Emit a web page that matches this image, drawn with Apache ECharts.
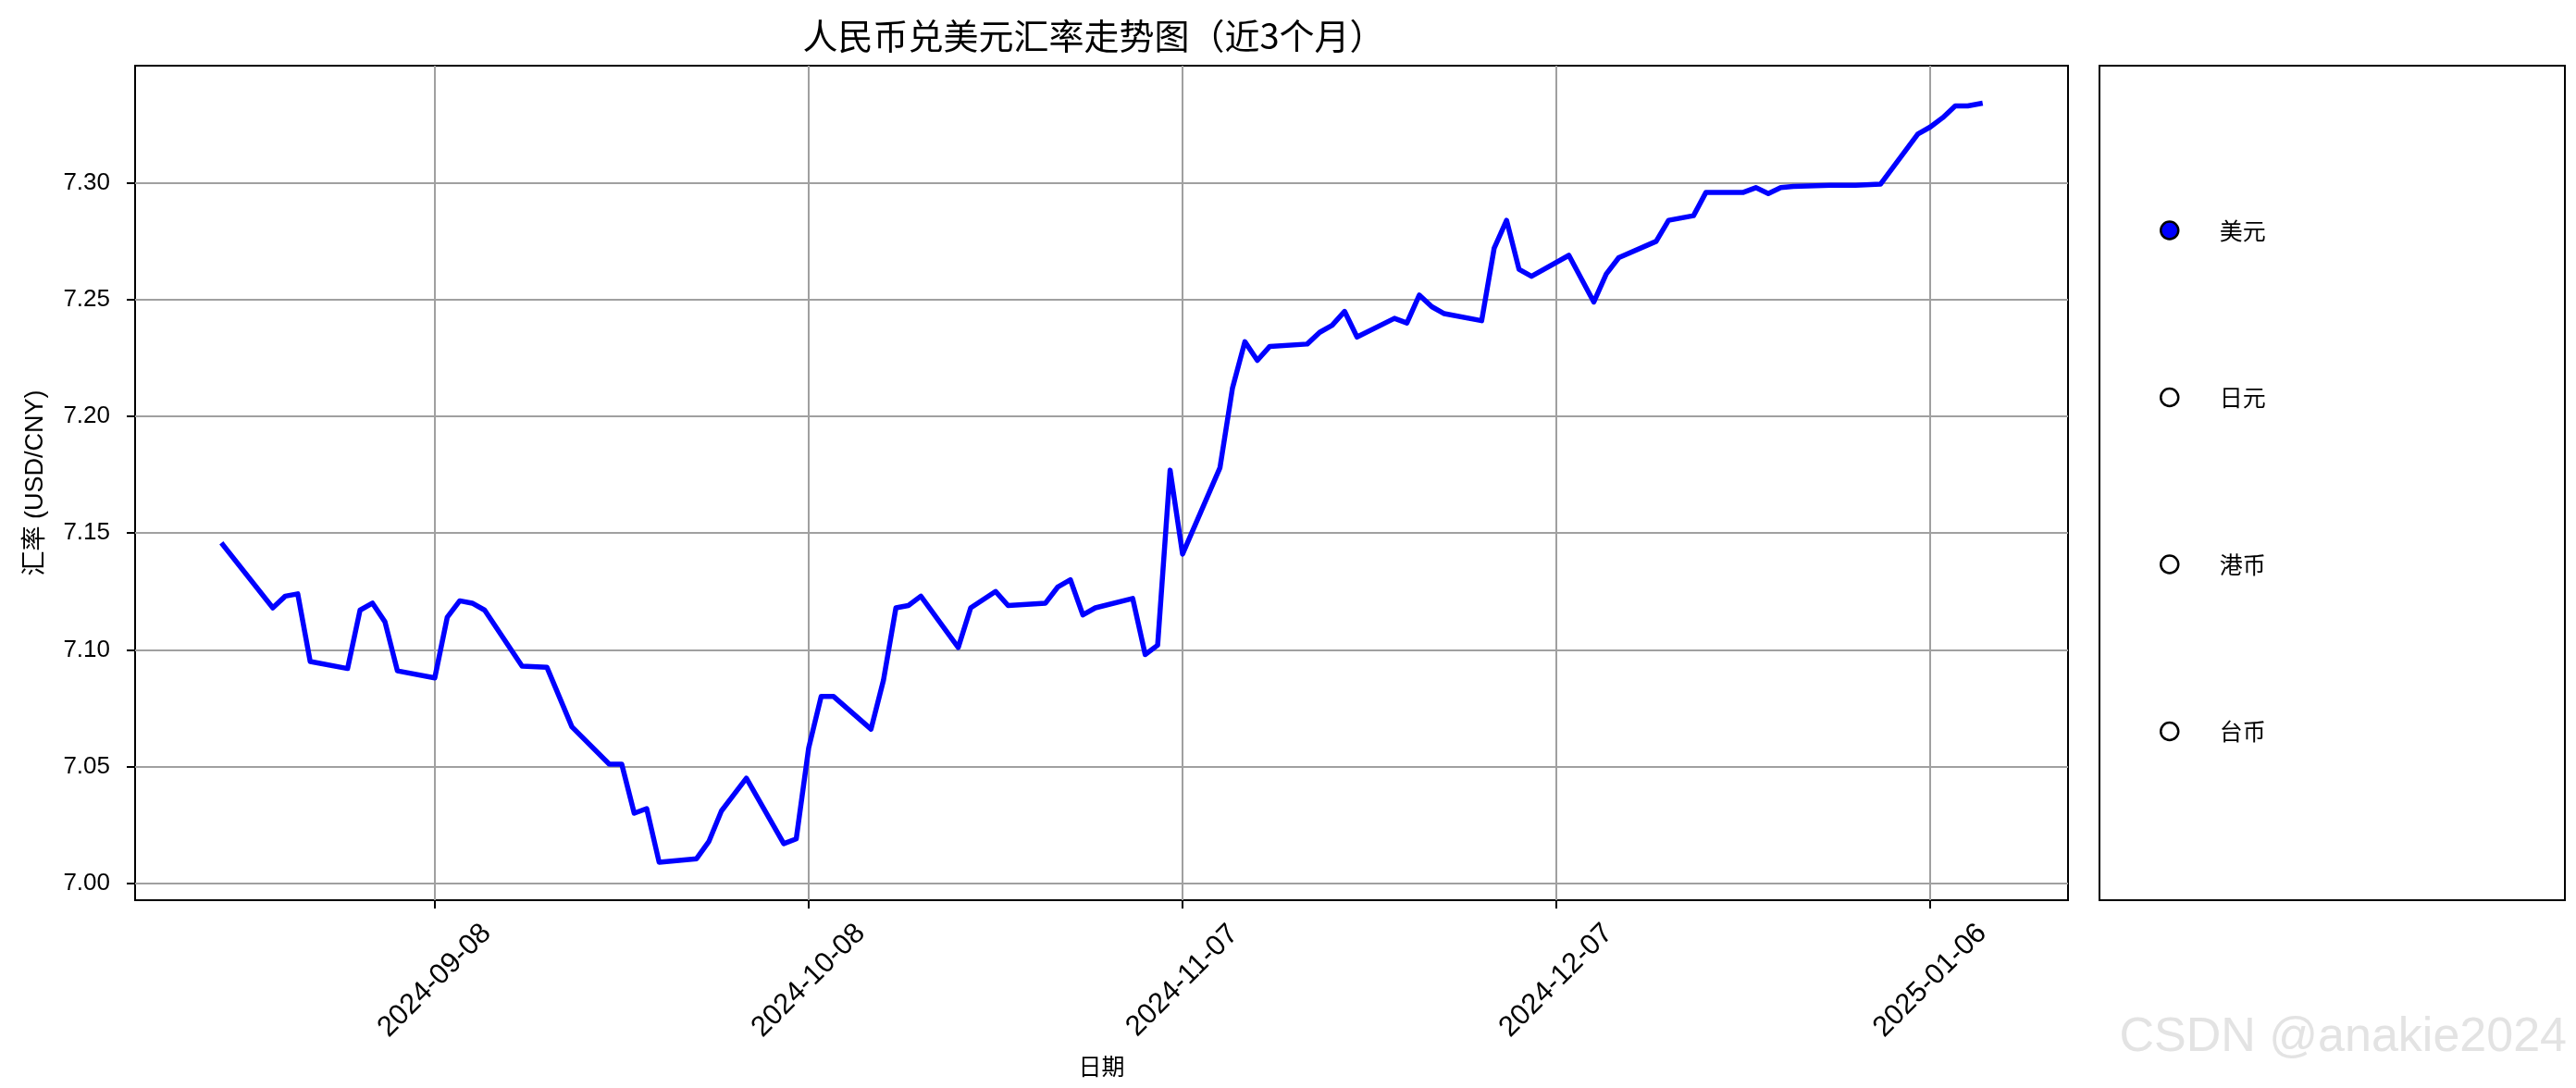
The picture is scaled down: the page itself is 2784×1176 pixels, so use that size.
<!DOCTYPE html>
<html>
<head>
<meta charset="utf-8">
<script src="https://cdn.jsdelivr.net/npm/echarts@6/dist/echarts.min.js"></script>
<style>
html,body{margin:0;padding:0;background:#ffffff;}
#chart{width:2784px;height:1176px;}
</style>
</head>
<body>
<div id="chart"></div>
<script>
// ---------------- data ----------------
const chartTitle = '人民币兑美元汇率走势图（近3个月）';
const xAxisName = '日期';
const yAxisName = '汇率 (USD/CNY)';
const currencies = ['美元', '日元', '港币', '台币'];
const activeCurrency = '美元';

const dates = [
  '2024-08-22','2024-08-26','2024-08-27','2024-08-28','2024-08-29',
  '2024-09-01','2024-09-02','2024-09-03','2024-09-04','2024-09-05',
  '2024-09-08','2024-09-09','2024-09-10','2024-09-11','2024-09-12',
  '2024-09-15','2024-09-17','2024-09-19','2024-09-22','2024-09-23',
  '2024-09-24','2024-09-25','2024-09-26','2024-09-29','2024-09-30',
  '2024-10-01','2024-10-03','2024-10-06','2024-10-07','2024-10-08',
  '2024-10-09','2024-10-10','2024-10-13','2024-10-14','2024-10-15',
  '2024-10-16','2024-10-17','2024-10-20','2024-10-21','2024-10-23',
  '2024-10-24','2024-10-27','2024-10-28','2024-10-29','2024-10-30',
  '2024-10-31','2024-11-03','2024-11-04','2024-11-05','2024-11-06',
  '2024-11-07','2024-11-10','2024-11-11','2024-11-12','2024-11-13',
  '2024-11-14','2024-11-17','2024-11-18','2024-11-19','2024-11-20',
  '2024-11-21','2024-11-24','2024-11-25','2024-11-26','2024-11-27',
  '2024-11-28','2024-12-01','2024-12-02','2024-12-03','2024-12-04',
  '2024-12-05','2024-12-08','2024-12-10','2024-12-11','2024-12-12',
  '2024-12-15','2024-12-16','2024-12-17','2024-12-18','2024-12-19',
  '2024-12-22','2024-12-23','2024-12-24','2024-12-25','2024-12-26',
  '2024-12-29','2024-12-30','2024-12-31','2025-01-02','2025-01-05',
  '2025-01-06','2025-01-07','2025-01-08','2025-01-09','2025-01-10'
];

const usdCny = [
  7.145, 7.118, 7.123, 7.124, 7.095,
  7.092, 7.117, 7.120, 7.112, 7.091,
  7.088, 7.114, 7.121, 7.120, 7.117,
  7.093, 7.0925, 7.067, 7.051, 7.051,
  7.030, 7.032, 7.009, 7.0105, 7.018,
  7.031, 7.045, 7.017, 7.019, 7.058,
  7.080, 7.080, 7.066, 7.087, 7.118,
  7.119, 7.123, 7.101, 7.118, 7.125,
  7.119, 7.120, 7.127, 7.130, 7.115,
  7.118, 7.122, 7.098, 7.102, 7.177,
  7.141, 7.178, 7.212, 7.232, 7.224,
  7.230, 7.231, 7.236, 7.239, 7.245,
  7.234, 7.242, 7.240, 7.252, 7.247,
  7.244, 7.241, 7.272, 7.284, 7.263,
  7.260, 7.269, 7.249, 7.261, 7.268,
  7.275, 7.284, 7.285, 7.286, 7.296,
  7.296, 7.298, 7.2955, 7.298, 7.2985,
  7.299, 7.299, 7.299, 7.2995, 7.321,
  7.324, 7.328, 7.333, 7.333, 7.334
];

const xTickLabels = ['2024-09-08', '2024-10-08', '2024-11-07', '2024-12-07', '2025-01-06'];
const yTickValues = [7.00, 7.05, 7.10, 7.15, 7.20, 7.25, 7.30];

// ---------------- helpers ----------------
const DAY_MS = 86400000;
function toDay(s) { const p = s.split('-').map(Number); return Date.UTC(p[0], p[1] - 1, p[2]) / DAY_MS; }
function fromDay(n) { return new Date(Math.round(n) * DAY_MS).toISOString().slice(0, 10); }

const xDays = dates.map(toDay);
const seriesData = xDays.map((d, i) => [d, usdCny[i]]);
const xTickDays = xTickLabels.map(toDay);

// matplotlib-like 5% margins from the data
const xLo = Math.min(...xDays), xHi = Math.max(...xDays);
const yLo = Math.min(...usdCny), yHi = Math.max(...usdCny);
const xPad = (xHi - xLo) * 0.05, yPad = (yHi - yLo) * 0.05;

const LATIN = "'Liberation Sans', 'Noto Sans CJK SC', sans-serif";
const CJK = "'Noto Sans CJK SC', sans-serif";

const chart = echarts.init(document.getElementById('chart'), null, { renderer: 'canvas' });

const series = currencies.map(c => ({
  name: c,
  type: 'line',
  data: c === activeCurrency ? seriesData : [],
  showSymbol: false,
  symbol: 'none',
  animation: false,
  lineStyle: { color: '#0000ff', width: 5.5, join: 'round', cap: 'square' },
  itemStyle: { color: '#0000ff' },
  z: 5
}));

chart.setOption({
  animation: false,
  backgroundColor: '#ffffff',
  textStyle: { fontFamily: LATIN, color: '#000' },
  grid: {
    left: 146, right: 549, top: 71, bottom: 203,
    show: true, borderColor: '#000', borderWidth: 2, backgroundColor: 'transparent'
  },
  xAxis: {
    type: 'value',
    min: xLo - xPad,
    max: xHi + xPad,
    name: xAxisName,
    nameLocation: 'middle',
    nameGap: 167,
    nameTextStyle: { fontFamily: CJK, fontSize: 25, color: '#000' },
    axisLine: { show: false },
    axisTick: { show: true, customValues: xTickDays, length: 9, lineStyle: { color: '#000', width: 2 } },
    axisLabel: {
      customValues: xTickDays,
      formatter: v => fromDay(v),
      rotate: 45,
      align: 'center',
      verticalAlign: 'middle',
      margin: 87,
      fontSize: 31,
      color: '#000',
      fontFamily: LATIN
    },
    splitLine: { show: true, lineStyle: { color: '#a0a0a0', width: 2 } }
  },
  yAxis: {
    type: 'value',
    min: yLo - yPad,
    max: yHi + yPad,
    name: yAxisName,
    nameLocation: 'middle',
    nameGap: 94,
    nameRotate: 90,
    nameTextStyle: { fontFamily: LATIN, fontSize: 27, color: '#000' },
    axisLine: { show: false },
    axisTick: { show: true, customValues: yTickValues, length: 9, lineStyle: { color: '#000', width: 2 } },
    axisLabel: {
      customValues: yTickValues,
      formatter: v => v.toFixed(2),
      margin: 27,
      fontSize: 26,
      color: '#000',
      fontFamily: LATIN
    },
    splitLine: { show: true, lineStyle: { color: '#a0a0a0', width: 2 } }
  },
  legend: {
    orient: 'vertical',
    left: 2334,
    top: 236,
    padding: 0,
    itemWidth: 98,
    itemHeight: 19,
    itemGap: 154.5,
    icon: 'circle',
    selectedMode: false,
    textStyle: { fontFamily: CJK, fontSize: 25, lineHeight: 26, color: '#000' },
    itemStyle: { borderColor: '#000', borderWidth: 2.5 },
    data: currencies.map(c => ({
      name: c,
      icon: 'circle',
      itemStyle: { color: c === activeCurrency ? '#0000ff' : '#ffffff', borderColor: '#000', borderWidth: 2.5 }
    }))
  },
  graphic: [
    {
      type: 'text', x: 1182, y: 39,
      style: { text: chartTitle, font: "38px 'Noto Sans CJK SC'", fill: '#000', textAlign: 'center', textVerticalAlign: 'middle' }
    },
    {
      type: 'rect', shape: { x: 2269, y: 71, width: 503, height: 902 },
      style: { fill: 'none', stroke: '#000', lineWidth: 2 }, silent: true
    },
    {
      type: 'text', x: 2774, y: 1148,
      style: { text: 'CSDN @anakie2024', font: "52px 'Liberation Sans'", fill: '#e3e3e3', textAlign: 'right', textVerticalAlign: 'bottom' },
      silent: true
    }
  ],
  series: series
});
</script>
</body>
</html>
